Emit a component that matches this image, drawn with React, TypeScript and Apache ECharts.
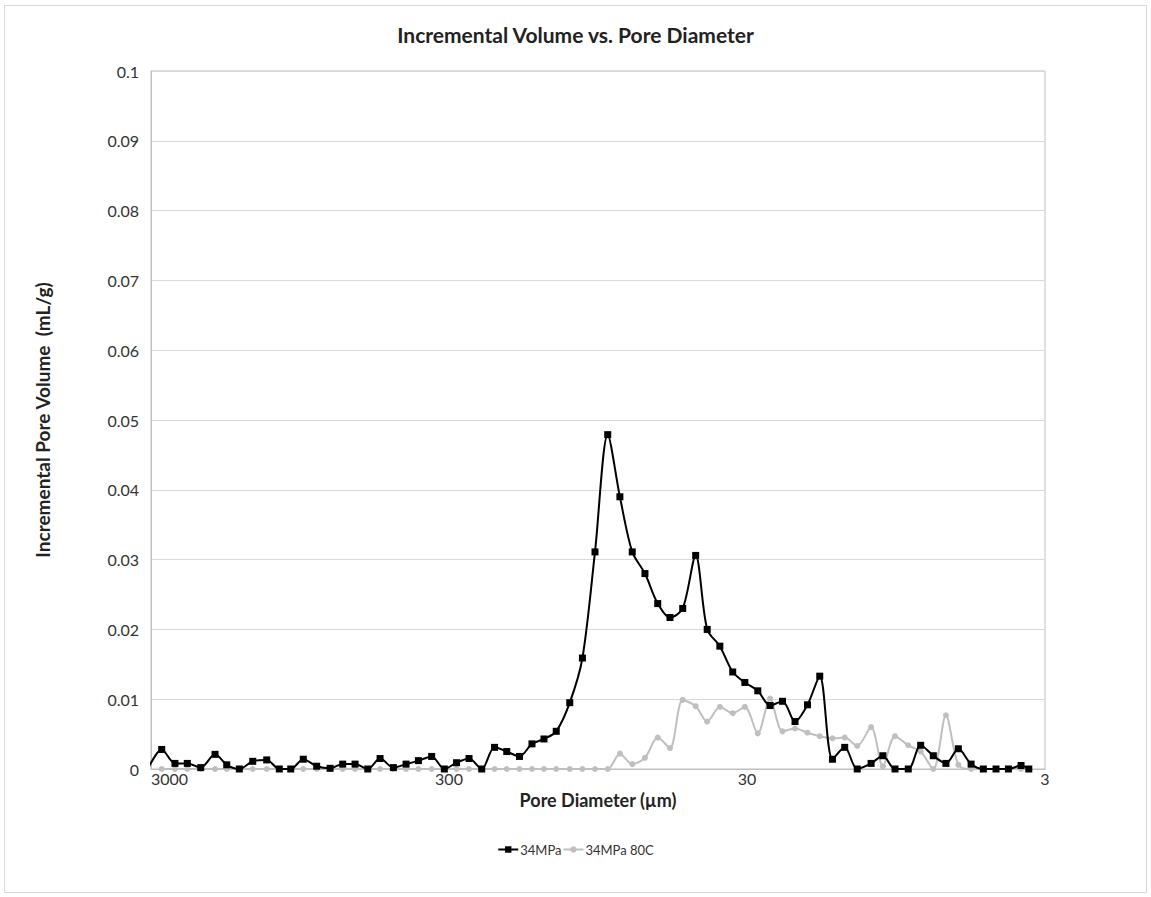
import React, { useEffect, useRef } from "react";
import * as echarts from "echarts";

// Pore diameter (µm) of each measurement point
const diameters = [
  3050, 2762, 2493, 2266, 2043, 1829, 1671, 1516, 1367, 1227, 1113, 1019, 925, 834, 752, 682, 620, 562,
  511, 461, 418, 380, 343, 311, 283, 257, 233, 211, 192, 174, 158, 144, 131, 118, 107, 97.1, 88.0, 80.1,
  72.8, 66.0, 59.8, 54.4, 49.3, 44.6, 40.8, 37.0, 33.5, 30.5, 27.6, 25.1, 22.8, 20.7, 18.8, 17.1, 15.5,
  14.1, 12.8, 11.5, 10.5, 9.56, 8.63, 7.84, 7.11, 6.45, 5.86, 5.31, 4.83, 4.38, 3.98, 3.61, 3.4,
];

// Incremental pore volume (mL/g), 34MPa
const volume34MPa = [
  0.0003, 0.0028, 0.0008, 0.0008, 0.0002, 0.0021, 0.0006, 0, 0.0011, 0.0013, 0, 0, 0.0014, 0.0004, 0.0001,
  0.0007, 0.0007, 0, 0.0015, 0.0002, 0.0007, 0.0012, 0.0018, 0, 0.0009, 0.0015, 0, 0.0031, 0.0025, 0.0018,
  0.0036, 0.0043, 0.0054, 0.0095, 0.0159, 0.0311, 0.0479, 0.039, 0.0311, 0.028, 0.0237, 0.0217, 0.023,
  0.0306, 0.02, 0.0176, 0.0139, 0.0124, 0.0112, 0.0091, 0.0097, 0.0068, 0.0092, 0.0133, 0.0014, 0.0031,
  0, 0.0008, 0.0019, 0, 0, 0.0034, 0.0019, 0.0008, 0.0029, 0.0007, 0, 0, 0, 0.0005, 0,
];

// Incremental pore volume (mL/g), 34MPa 80C
const volume34MPa80C = [
  null, 0, 0, 0, 0, 0, 0, 0, 0, 0, 0, 0, 0, 0, 0, 0, 0, 0, 0, 0, 0, 0, 0, 0, 0, 0, 0, 0, 0, 0, 0, 0, 0, 0, 0,
  0, 0, 0.0022, 0.0007, 0.0016, 0.0045, 0.003, 0.0099, 0.009, 0.0068, 0.0089, 0.008, 0.0089, 0.0051,
  0.0101, 0.0054, 0.0058, 0.0052, 0.0047, 0.0044, 0.0045, 0.0033, 0.006, 0.0004, 0.0047, 0.0034, 0.0025,
  0, 0.0077, 0.0006, 0, 0, 0, 0, 0, 0,
];

const xTickLabels = [3000, 300, 30, 3];
const seriesNames = ["34MPa", "34MPa 80C"];

const FONT = "Lato, 'Open Sans', sans-serif";

export default function App() {
  const ref = useRef<HTMLDivElement>(null);

  useEffect(() => {
    const chart = echarts.init(ref.current!, null, { renderer: "svg" });
    const maxD = xTickLabels[0];
    const toX = (d: number) => Math.log10(maxD / d);
    const build = (vals: (number | null)[]) =>
      diameters.map((d, i) => [toX(d), vals[i] == null ? null : vals[i]]);

    chart.setOption({
      animation: false,
      backgroundColor: "#ffffff",
      graphic: [
        {
          type: "rect",
          shape: { x: 4.5, y: 5.5, width: 1142, height: 887 },
          style: { fill: "none", stroke: "#d9d9d9", lineWidth: 1 },
          silent: true,
        },
      ],
      title: {
        text: "Incremental Volume vs. Pore Diameter",
        left: "center",
        top: 19,
        textStyle: { fontFamily: FONT, fontSize: 21, fontWeight: "bold", color: "#222" },
      },
      grid: {
        left: 151,
        right: 106,
        top: 71,
        bottom: 128,
        show: true,
        borderColor: "#bfbfbf",
        borderWidth: 1,
        containLabel: false,
      },
      legend: {
        bottom: 36,
        left: "center",
        itemWidth: 20,
        itemHeight: 8,
        itemGap: 1,
        textStyle: { fontFamily: FONT, fontSize: 13, color: "#333", padding: [0, 0, 0, -3] },
        data: seriesNames,
      },
      xAxis: {
        type: "value",
        min: 0,
        max: 3,
        interval: 1,
        name: "Pore Diameter (µm)",
        nameLocation: "middle",
        nameGap: 19,
        nameTextStyle: { fontFamily: FONT, fontSize: 18, fontWeight: "bold", color: "#222" },
        axisLine: { show: true, lineStyle: { color: "#bfbfbf" } },
        axisTick: { show: false },
        splitLine: { show: false },
        axisLabel: {
          fontFamily: FONT,
          fontSize: 16,
          color: "#333",
          margin: 1,
          alignMinLabel: "left",
          formatter: (v: number) => String(Math.round(maxD / Math.pow(10, v))),
        },
      },
      yAxis: {
        type: "value",
        min: 0,
        max: 0.1,
        interval: 0.01,
        name: "Incremental Pore Volume  (mL/g)",
        nameLocation: "middle",
        nameGap: 99,
        nameTextStyle: { fontFamily: FONT, fontSize: 19, fontWeight: "bold", color: "#222" },
        axisLine: { show: true, lineStyle: { color: "#bfbfbf" } },
        axisTick: { show: false },
        splitLine: { show: true, lineStyle: { color: "#d9d9d9", width: 1 } },
        axisLabel: {
          fontFamily: FONT,
          fontSize: 16,
          color: "#333",
          margin: 12,
          formatter: (v: number) => String(parseFloat(v.toFixed(3))),
        },
      },
      series: [
        {
          name: seriesNames[0],
          type: "line",
          smooth: 0.3,
          clip: true,
          data: build(volume34MPa),
          symbol: "rect",
          symbolSize: 7,
          showAllSymbol: true,
          lineStyle: { color: "#000000", width: 2 },
          itemStyle: { color: "#000000" },
          z: 3,
        },
        {
          name: seriesNames[1],
          type: "line",
          smooth: 0.3,
          clip: true,
          connectNulls: false,
          data: build(volume34MPa80C),
          symbol: "circle",
          symbolSize: 6,
          showAllSymbol: true,
          lineStyle: { color: "#bfbfbf", width: 2 },
          itemStyle: { color: "#bfbfbf" },
          z: 2,
        },
      ],
    });

    return () => chart.dispose();
  }, []);

  return (
    <div
      ref={ref}
      style={{ position: "absolute", left: 0, top: 0, width: 1151, height: 897 }}
    />
  );
}
